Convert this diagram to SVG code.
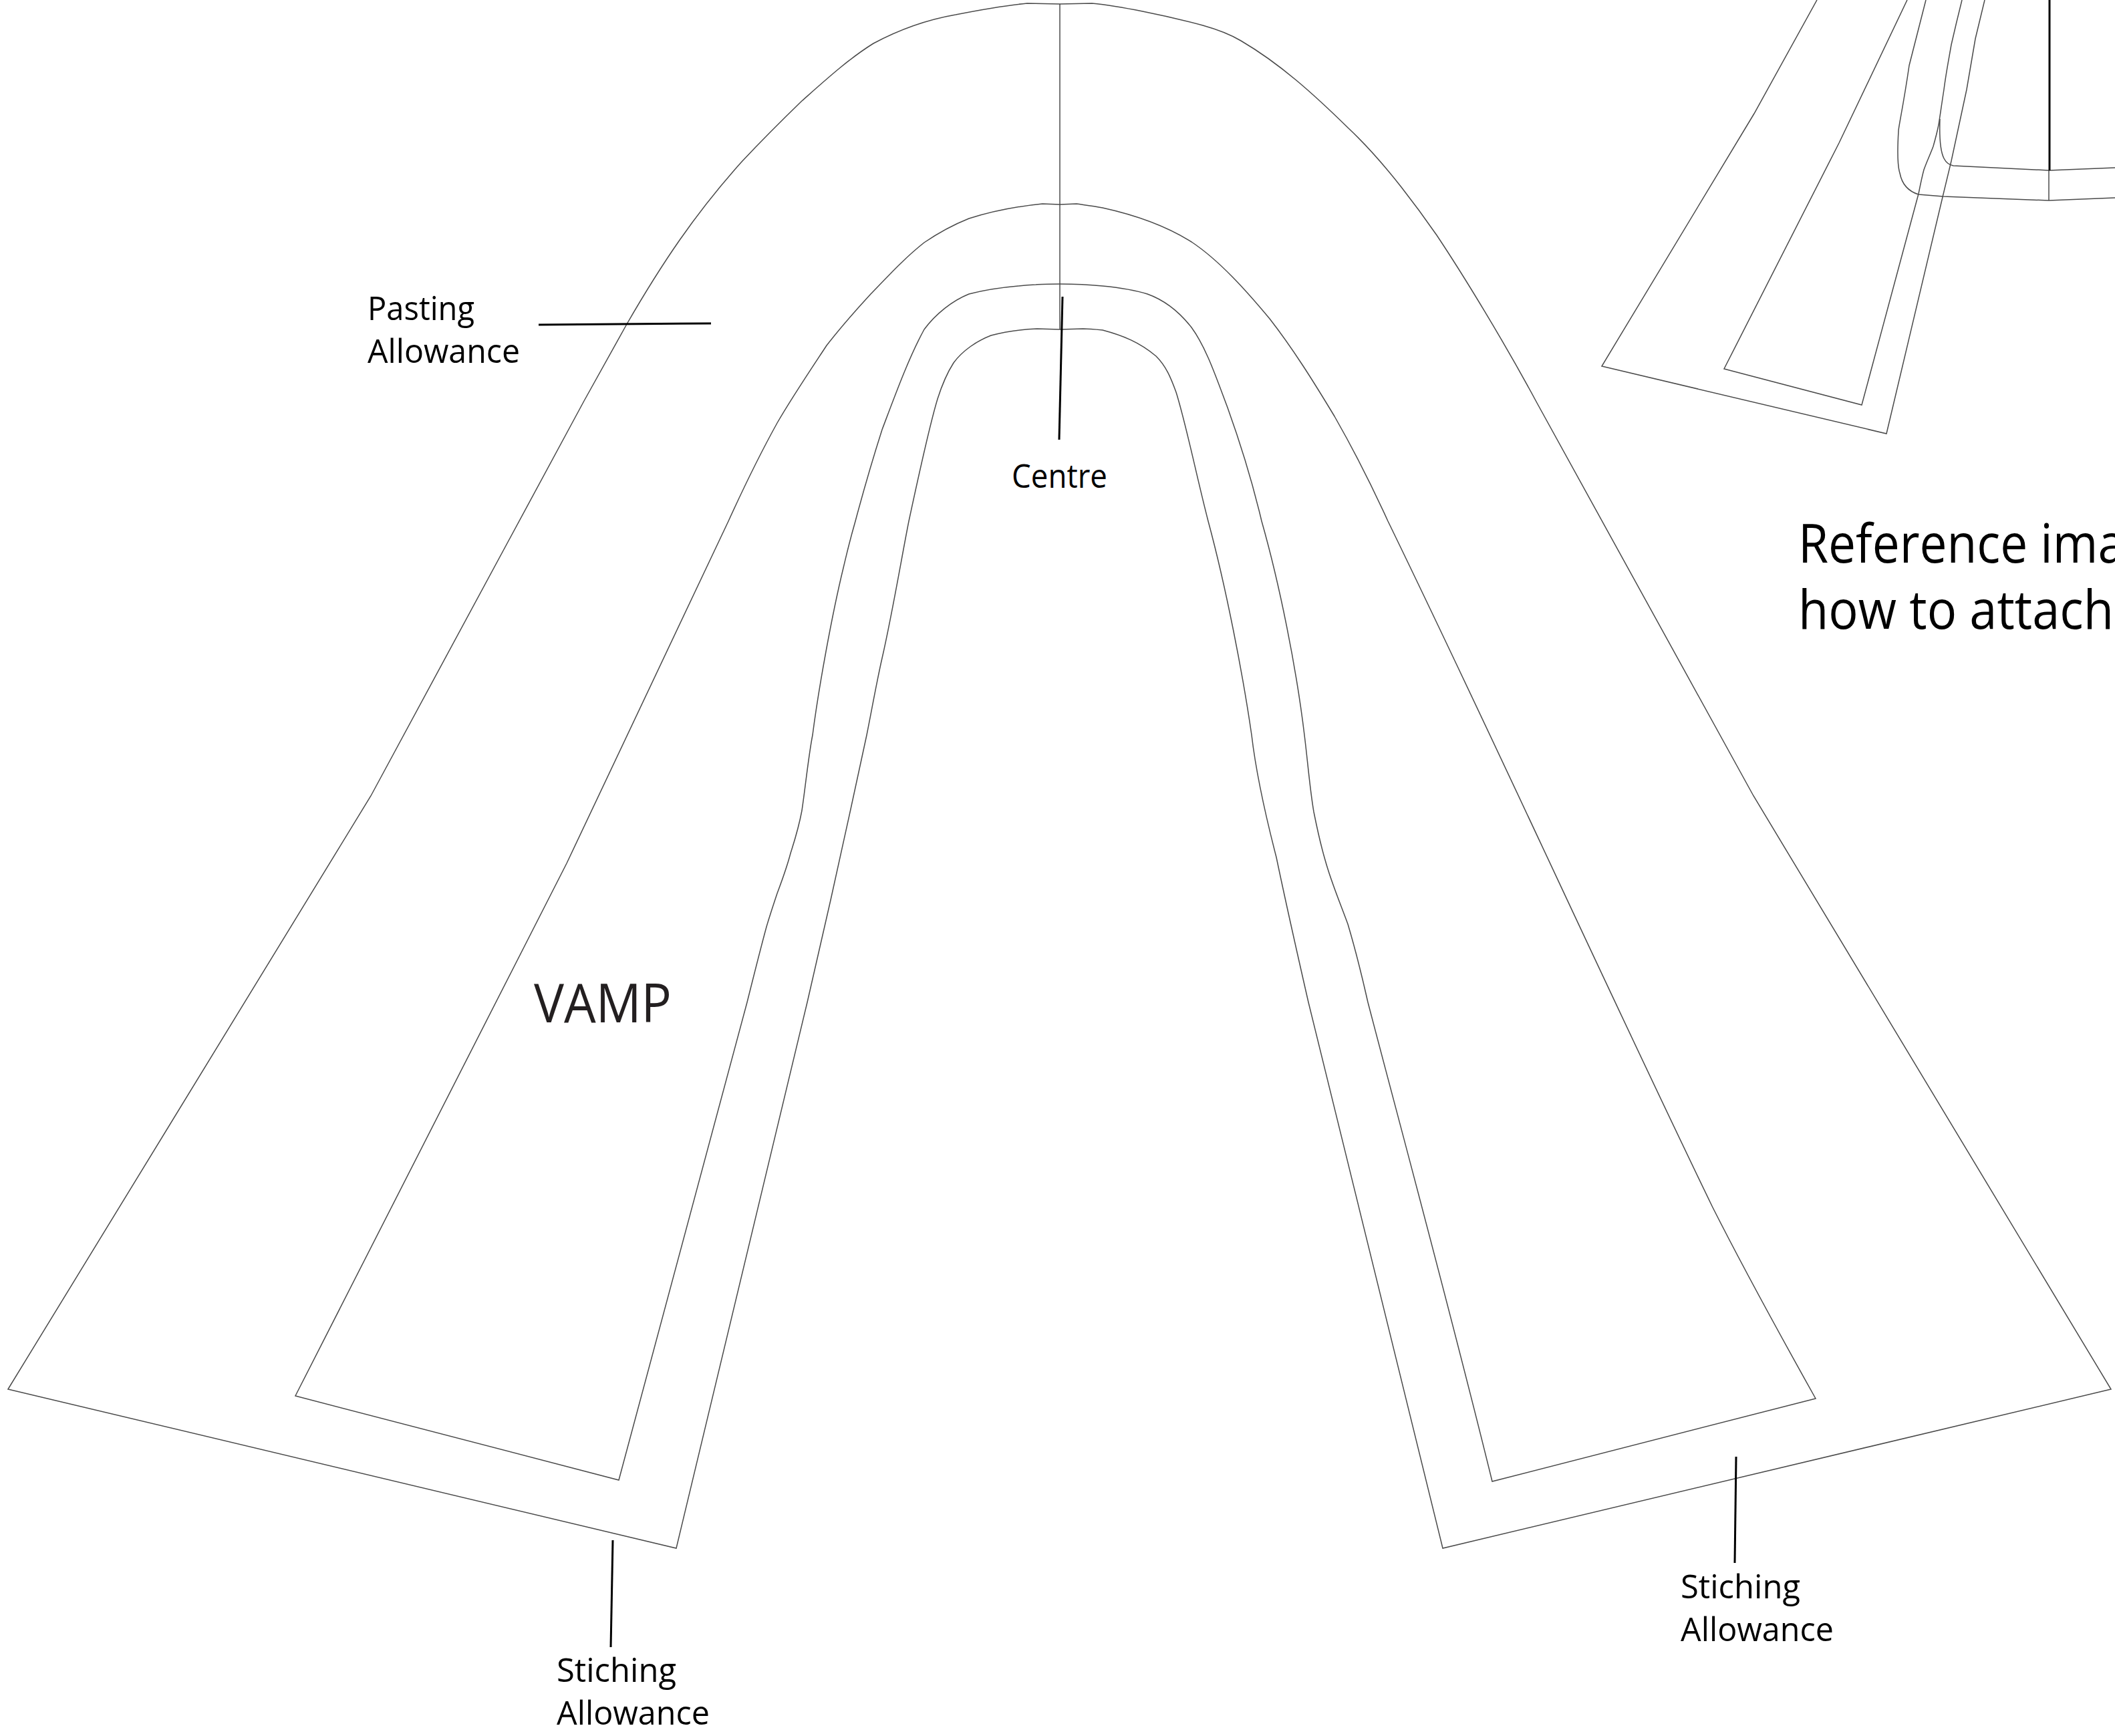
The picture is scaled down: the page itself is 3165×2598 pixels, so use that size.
<svg xmlns="http://www.w3.org/2000/svg" width="3165" height="2598" viewBox="0 0 3165 2598">
<style>
.o{fill:none;stroke:#4a4a4a;stroke-width:1.5;stroke-linejoin:miter}
.l{fill:none;stroke:#000;stroke-width:3}
.t{font-family:"Open Sans","Noto Sans",sans-serif;fill:#000;font-size:50px}
.b{font-size:80px}
</style>
<rect width="3165" height="2598" fill="#fff"/>
<g id="vamp">
<path id="vamp-outer" class="o" d="M12 2079L555 1191L874 600L938 485C990 395 1040 320 1110 242C1140 210 1170 180 1200 151C1235 120 1270 88 1307 65C1350 42 1390 29 1430 22C1470 14 1505 8 1537 5L1586 6L1634 5C1675 9 1740 22 1800 38C1825 45 1842 52 1857 61C1915 95 1965 140 2018 192C2050 222 2075 252 2097 280C2115 303 2132 326 2150 352C2190 412 2250 510 2300 603L2624 1191L3159 2079L2159 2317L1958 1500C1942 1430 1925 1355 1910 1283C1895 1225 1880 1160 1873 1100C1860 1010 1835 880 1808 780C1790 710 1775 635 1760 587C1752 565 1745 548 1730 533C1705 512 1680 502 1650 494C1640 493 1630 492 1621 492L1586 493L1552 492C1525 493 1505 496 1483 502C1462 510 1440 525 1427 543C1418 557 1410 575 1403 597C1390 640 1375 710 1360 780C1350 830 1335 920 1320 985C1312 1020 1305 1060 1297 1100C1280 1180 1260 1270 1243 1347L1208 1500L1012 2317Z"/>
<path id="vamp-inner" class="o" d="M442 2089L848 1292L1090 780C1115 725 1137 680 1163 633C1185 595 1210 558 1237 517C1258 490 1280 465 1303 440C1330 412 1355 385 1383 363C1405 348 1425 337 1450 327C1485 316 1520 309 1560 305L1586 306L1611 305C1625 307 1635 308 1650 311C1700 322 1745 338 1783 362C1825 390 1865 435 1900 477C1935 522 1965 570 1997 623C2025 672 2052 725 2077 780C2240 1115 2400 1470 2563 1807C2610 1900 2665 2000 2717 2093L2233 2217C2170 1960 2090 1665 2047 1500C2038 1460 2028 1420 2017 1383C2005 1350 1992 1320 1983 1287C1978 1270 1972 1245 1966 1215C1960 1180 1957 1140 1952 1100C1940 1000 1915 875 1888 780C1875 725 1855 660 1837 610C1820 565 1805 520 1783 490C1765 467 1745 450 1717 440C1695 433 1670 430 1650 428C1630 426 1610 425 1586 425C1570 425 1560 425 1550 426C1515 428 1480 432 1450 440C1425 450 1400 470 1383 493C1360 535 1340 590 1320 643C1305 690 1292 735 1280 780C1270 815 1268 825 1262 850C1245 920 1225 1030 1216 1100C1210 1130 1205 1180 1200 1213C1195 1240 1190 1255 1183 1277C1177 1300 1170 1318 1163 1337C1157 1355 1152 1370 1147 1387C1138 1420 1128 1460 1118 1500L926 2215Z"/>
<path id="vamp-stitch" class="o" d="M1586 6V425"/>
<path class="o" d="M1586 425V493" stroke-width="2.5"/>
</g>
<g id="reference-piece">
<path class="o" d="M2719 0L2625 170L2397 548L2823 649L2907 295L2920 241L2943 134L2956 58L2970 0"/>
<path class="o" d="M2854 0L2752 214L2580 552L2786 606L2871 290C2874 275 2876 265 2879 254C2884 240 2889 230 2893 219C2897 205 2899 197 2901 187C2903 175 2905 160 2909 134C2912 110 2916 90 2920 67C2925 45 2931 20 2936 0"/>
<path class="o" d="M2882 0L2857 98C2848 160 2841 190 2841 196C2839 230 2840 250 2843 259C2846 275 2855 286 2871 291L2908 294L3066 300L3165 296"/>
<path class="o" d="M2903 178C2902 205 2903 225 2909 237C2913 245 2918 247 2923 248L3066 255L3165 251"/>
<path class="l" d="M3067 0V255" stroke-width="2"/>
<path class="o" d="M3066 255V300"/>
</g>
<g id="connectors">
<path class="l" d="M806 486L1064 484"/>
<path class="l" d="M1590 444L1585 658"/>
<path class="l" d="M917 2305L914 2465"/>
<path class="l" d="M2598 2180L2596 2339"/>
</g>
<g id="labels">
<text class="t" x="550" y="479" textLength="160" lengthAdjust="spacingAndGlyphs">Pasting</text>
<text class="t" x="550" y="543" textLength="228" lengthAdjust="spacingAndGlyphs">Allowance</text>
<text class="t" x="1514" y="730" textLength="143" lengthAdjust="spacingAndGlyphs">Centre</text>
<text class="t" x="833" y="2517" textLength="179" lengthAdjust="spacingAndGlyphs">Stiching</text>
<text class="t" x="833" y="2581" textLength="229" lengthAdjust="spacingAndGlyphs">Allowance</text>
<text class="t" x="2515" y="2392" textLength="179" lengthAdjust="spacingAndGlyphs">Stiching</text>
<text class="t" x="2515" y="2456" textLength="229" lengthAdjust="spacingAndGlyphs">Allowance</text>
<text class="t b" x="799" y="1530" style="fill:#231f20" textLength="206" lengthAdjust="spacingAndGlyphs">VAMP</text>
<text class="t b" x="2691" y="842" textLength="489" lengthAdjust="spacingAndGlyphs">Reference ima</text>
<text class="t b" x="2691" y="941" textLength="472" lengthAdjust="spacingAndGlyphs">how to attach</text>
</g>
</svg>
